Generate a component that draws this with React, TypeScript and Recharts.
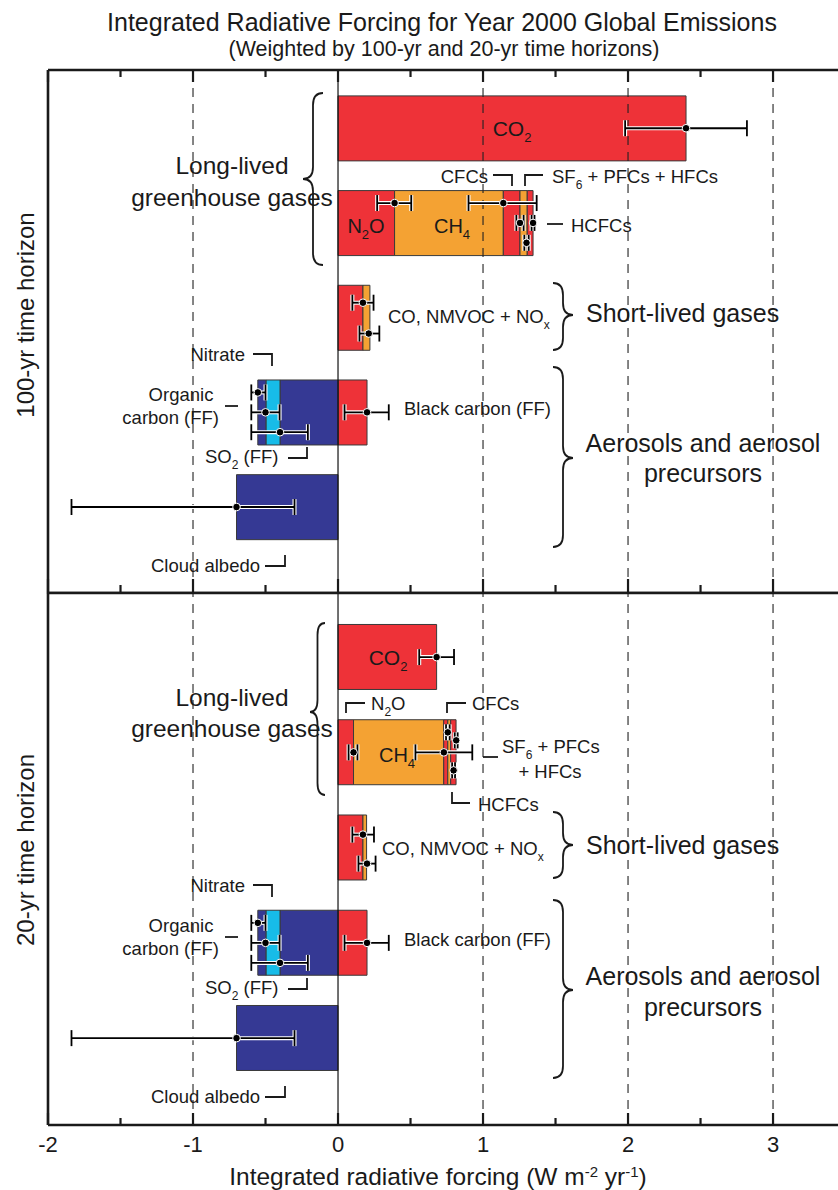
import React from "react";
import { Bar, ComposedChart, ErrorBar, ReferenceLine, Scatter, XAxis, YAxis } from "recharts";

const FONT = '"Liberation Sans", Arial, Helvetica, sans-serif';

// forcing components, in stacking order
const components = ["co2", "n2o", "ch4", "cfc", "sf6", "hcfc", "co", "nox", "bc", "so2", "oc", "nitrate", "cloud"];
const componentRow = [0, 1, 1, 1, 1, 1, 2, 2, 3, 3, 3, 3, 4];
const forcing100 = [2.4, 0.39, 0.75, 0.115, 0.05, 0.04, 0.172, 0.048, 0.2, -0.4, -0.097, -0.056, -0.7];
const forcing20 = [0.68, 0.107, 0.622, 0.028, 0.02, 0.037, 0.172, 0.025, 0.2, -0.4, -0.097, -0.056, -0.7];

const RED = "#ee3238";
const ORANGE = "#f4a233";
const BLUE = "#353994";
const CYAN = "#17bce8";
const componentColor = [RED, RED, ORANGE, RED, ORANGE, RED, RED, ORANGE, RED, BLUE, CYAN, BLUE, BLUE];

// uncertainty ranges (central estimate, low, high)
const errRow100 = [0, 1, 1, 1, 1, 1, 2, 2, 3, 3, 3, 3, 4];
const errMid100 = [2.4, 0.39, 1.14, 1.255, 1.3, 1.345, 0.172, 0.212, -0.553, -0.5, -0.4, 0.2, -0.7];
const errLow100 = [1.98, 0.27, 0.9, 1.23, 1.285, 1.335, 0.099, 0.148, -0.598, -0.598, -0.598, 0.045, -1.838];
const errHigh100 = [2.82, 0.505, 1.37, 1.28, 1.315, 1.355, 0.245, 0.285, -0.5, -0.403, -0.208, 0.35, -0.3];

const errRow20 = [0, 1, 1, 1, 1, 1, 2, 2, 3, 3, 3, 3, 4];
const errMid20 = [0.68, 0.107, 0.73, 0.757, 0.815, 0.797, 0.172, 0.2, -0.553, -0.5, -0.4, 0.2, -0.7];
const errLow20 = [0.56, 0.073, 0.534, 0.745, 0.805, 0.787, 0.099, 0.141, -0.598, -0.598, -0.598, 0.045, -1.838];
const errHigh20 = [0.8, 0.134, 0.926, 0.77, 0.825, 0.807, 0.248, 0.259, -0.5, -0.403, -0.208, 0.35, -0.3];

// vertical lane of each error bar inside its bar (-1 upper, 0 middle, 1 lower)
const errLane100 = [0, -1, -1, 0, 1, 0, -0.75, 0.8, -1, 0, 1, 0, 0];
const errLane20 = [0, 0, 0, -1, -0.6, 0.9, -0.65, 0.8, -1, 0, 1, 0, 0];
const LANE = 0.21;

const xTicks = [-2, -1.5, -1, -0.5, 0, 0.5, 1, 1.5, 2, 2.5, 3];
const dashedAt = [-1, 1, 2, 3];
const X_DOMAIN: [number, number] = [-2, 3.448];
const rowTicks = [0, 1, 2, 3, 4];

function buildRows(values: number[]) {
  return rowTicks.map((r) => {
    const d: any = { row: r };
    components.forEach((c, i) => {
      if (componentRow[i] === r) d[c] = values[i];
    });
    return d;
  });
}

function buildErrs(rows: number[], lanes: number[], mid: number[], low: number[], high: number[]) {
  return mid.map((m, i) => ({ x: m, y: rows[i] + lanes[i] * LANE, err: [m - low[i], high[i] - m] }));
}

const tickFactory = (dir: number, major: number, minor: number, labels: boolean) => (props: any) => {
  const { x, y, payload } = props;
  const v = payload.value;
  const isMajor = Number.isInteger(v);
  const len = isMajor ? major : minor;
  return (
    <g>
      {dir === 0 ? (
        <line x1={x} x2={x} y1={y - len} y2={y + len} stroke="#1a1a1a" strokeWidth={2.2} />
      ) : (
        <line x1={x} x2={x} y1={y} y2={y + dir * len} stroke="#1a1a1a" strokeWidth={2.2} />
      )}
      {labels && isMajor && (
        <text x={x} y={y + 27} textAnchor="middle" fontSize={22} fontFamily={FONT} fill="#1a1a1a">
          {String(v)}
        </text>
      )}
    </g>
  );
};

const Dot = (props: any) => {
  const { cx, cy } = props;
  if (cx == null || cy == null) return null;
  return <circle cx={cx} cy={cy} r={3.8} fill="#000" stroke="#fff" strokeWidth={1} />;
};

function Panel({ values, errs, rowDomain, height, topTick, bottomTick, bottomHeight }: any) {
  const data = buildRows(values);
  return (
    <ComposedChart
      width={838}
      height={height}
      layout="vertical"
      data={data}
      stackOffset="sign"
      margin={{ top: 0, right: 0, bottom: 0, left: 48 }}
    >
      <XAxis
        xAxisId="main"
        type="number"
        domain={X_DOMAIN}
        allowDataOverflow
        ticks={xTicks}
        interval={0}
        height={bottomHeight}
        tickSize={0}
        tickMargin={0}
        tickLine={false}
        axisLine={{ stroke: "#1a1a1a", strokeWidth: 2.6 }}
        tick={bottomTick}
      />
      <XAxis
        xAxisId="top"
        orientation="top"
        type="number"
        domain={X_DOMAIN}
        allowDataOverflow
        ticks={xTicks}
        interval={0}
        height={10}
        tickSize={0}
        tickMargin={0}
        tickLine={false}
        axisLine={{ stroke: "#1a1a1a", strokeWidth: 2.6 }}
        tick={topTick}
      />
      <XAxis xAxisId="px" type="number" dataKey="x" domain={X_DOMAIN} allowDataOverflow hide />
      <YAxis yAxisId="row" type="number" dataKey="row" domain={rowDomain} ticks={rowTicks} allowDataOverflow hide />
      <YAxis yAxisId="py" type="number" dataKey="y" domain={rowDomain} allowDataOverflow hide />

      {dashedAt.map((v) => (
        <ReferenceLine key={v} x={v} xAxisId="main" yAxisId="row" stroke="#222" strokeWidth={1.1} strokeDasharray="9 7" />
      ))}
      <ReferenceLine x={0} xAxisId="main" yAxisId="row" stroke="#111" strokeWidth={1.2} />
      <ReferenceLine x={-2} xAxisId="main" yAxisId="row" stroke="#1a1a1a" strokeWidth={2.6} />

      {components.map((c, i) => (
        <Bar
          key={c}
          dataKey={c}
          stackId="s"
          xAxisId="main"
          yAxisId="row"
          fill={componentColor[i]}
          stroke="#3a3a3a"
          strokeWidth={1}
          barSize={65}
          isAnimationActive={false}
        />
      ))}

      <Scatter data={errs} xAxisId="px" yAxisId="py" shape={<Dot />} isAnimationActive={false}>
        <ErrorBar dataKey="err" direction="x" width={8} stroke="#fff" strokeWidth={4} />
        <ErrorBar dataKey="err" direction="x" width={8} stroke="#000" strokeWidth={1.8} />
      </Scatter>
    </ComposedChart>
  );
}

function T({ x, y, size = 18.5, anchor = "start", children }: any) {
  return (
    <text x={x} y={y + size * 0.36} fontSize={size} textAnchor={anchor} fontFamily={FONT} fill="#1a1a1a">
      {children}
    </text>
  );
}

const Sub = ({ c, size = 12 }: any) => (
  <tspan dy={6} fontSize={size}>
    {c}
  </tspan>
);
const Up = ({ children }: any) => <tspan dy={-6}>{children}</tspan>;

function bracePath(xEnd: number, xTip: number, y1: number, y2: number, yTip: number) {
  const xm = (xEnd + xTip) / 2;
  const r = 12;
  return `M${xEnd},${y1} Q${xm},${y1} ${xm},${y1 + r} L${xm},${yTip - r} Q${xm},${yTip} ${xTip},${yTip} Q${xm},${yTip} ${xm},${yTip + r} L${xm},${y2 - r} Q${xm},${y2} ${xEnd},${y2}`;
}

const lineStyle = { fill: "none", stroke: "#1a1a1a", strokeWidth: 1.8 };

function Aerosols({ dy }: { dy: number }) {
  return (
    <g transform={`translate(0,${dy})`}>
      <T x={245} y={354} anchor="end">Nitrate</T>
      <polyline points="253,354 272,354 272,366" {...lineStyle} />
      <T x={181} y={394} anchor="middle">Organic</T>
      <T x={219} y={417} anchor="end">carbon (FF)</T>
      <line x1={225} y1={406} x2={238} y2={406} {...lineStyle} />
      <T x={205} y={456}>
        SO<Sub c="2" />
        <Up> (FF)</Up>
      </T>
      <polyline points="288,458 307,458 307,447" {...lineStyle} />
      <T x={404} y={408}>Black carbon (FF)</T>
      <T x={260} y={565} anchor="end">Cloud albedo</T>
      <polyline points="265,566 285,566 285,555" {...lineStyle} />
    </g>
  );
}

function Overlay() {
  return (
    <svg width={838} height={1190} style={{ position: "absolute", left: 0, top: 0, pointerEvents: "none" }}>
      <T x={442} y={22} size={25} anchor="middle">Integrated Radiative Forcing for Year 2000 Global Emissions</T>
      <T x={444} y={48} size={21.5} anchor="middle">(Weighted by 100-yr and 20-yr time horizons)</T>

      <g transform="translate(25,315) rotate(-90)">
        <T x={0} y={0} size={24} anchor="middle">100-yr time horizon</T>
      </g>
      <g transform="translate(25,850) rotate(-90)">
        <T x={0} y={0} size={24} anchor="middle">20-yr time horizon</T>
      </g>

      {/* 100-yr panel */}
      <T x={512} y={128} size={21} anchor="middle">
        CO<Sub c="2" size={13} />
      </T>
      <T x={366} y={226} size={20} anchor="middle">
        N<Sub c="2" size={13} />
        <Up>O</Up>
      </T>
      <T x={452} y={226} size={20} anchor="middle">
        CH<Sub c="4" size={13} />
      </T>
      <T x={488} y={176} anchor="end">CFCs</T>
      <polyline points="493,175 512,175 512,186" {...lineStyle} />
      <polyline points="525,186 525,175 543,175" {...lineStyle} />
      <T x={552} y={176}>
        SF<Sub c="6" />
        <Up> + PFCs + HFCs</Up>
      </T>
      <line x1={547} y1={224} x2={563} y2={224} {...lineStyle} />
      <T x={571} y={225}>HCFCs</T>
      <T x={388} y={316}>
        CO, NMVOC + NO<Sub c="x" />
      </T>
      <Aerosols dy={0} />

      <T x={232} y={165} size={24.5} anchor="middle">Long-lived</T>
      <T x={232} y={197} size={24.5} anchor="middle">greenhouse gases</T>
      <path d={bracePath(323, 303, 93, 265, 179)} {...lineStyle} />
      <T x={586} y={313} size={25}>Short-lived gases</T>
      <path d={bracePath(553, 573, 283, 350, 315)} {...lineStyle} />
      <T x={703} y={443} size={25} anchor="middle">Aerosols and aerosol</T>
      <T x={703} y={473} size={25} anchor="middle">precursors</T>
      <path d={bracePath(553, 573, 367, 547, 458)} {...lineStyle} />

      {/* 20-yr panel */}
      <T x={388} y={657} size={21} anchor="middle">
        CO<Sub c="2" size={13} />
      </T>
      <polyline points="346,713 346,703 365,703" {...lineStyle} />
      <T x={371} y={703}>
        N<Sub c="2" />
        <Up>O</Up>
      </T>
      <T x={397} y={755} size={20} anchor="middle">
        CH<Sub c="4" size={13} />
      </T>
      <polyline points="447,713 447,703 466,703" {...lineStyle} />
      <T x={472} y={703}>CFCs</T>
      <line x1={483} y1={757} x2={498} y2={757} {...lineStyle} />
      <T x={502} y={746}>
        SF<Sub c="6" />
        <Up> + PFCs</Up>
      </T>
      <T x={550} y={771} anchor="middle">+ HFCs</T>
      <polyline points="452,792 452,803 470,803" {...lineStyle} />
      <T x={478} y={804}>HCFCs</T>
      <T x={382} y={848}>
        CO, NMVOC + NO<Sub c="x" />
      </T>
      <Aerosols dy={531} />

      <T x={232} y={697} size={24.5} anchor="middle">Long-lived</T>
      <T x={232} y={728} size={24.5} anchor="middle">greenhouse gases</T>
      <path d={bracePath(325, 310, 623, 795, 712)} {...lineStyle} />
      <T x={586} y={845} size={25}>Short-lived gases</T>
      <path d={bracePath(553, 573, 812, 878, 845)} {...lineStyle} />
      <T x={703} y={976} size={25} anchor="middle">Aerosols and aerosol</T>
      <T x={703} y={1007} size={25} anchor="middle">precursors</T>
      <path d={bracePath(553, 573, 900, 1078, 990)} {...lineStyle} />

      <T x={438} y={1176} size={24.5} anchor="middle">
        Integrated radiative forcing (W m
        <tspan dy={-8} fontSize={15}>-2</tspan>
        <tspan dy={8}> yr</tspan>
        <tspan dy={-8} fontSize={15}>-1</tspan>
        <tspan dy={8}>)</tspan>
      </T>
    </svg>
  );
}

export default function App() {
  const errs100 = buildErrs(errRow100, errLane100, errMid100, errLow100, errHigh100);
  const errs20 = buildErrs(errRow20, errLane20, errMid20, errLow20, errHigh20);
  return (
    <div style={{ position: "absolute", left: 0, top: 0, width: 838, height: 1190, background: "#fff", fontFamily: FONT }}>
      <div style={{ position: "absolute", left: 0, top: 60 }}>
        <Panel
          values={forcing100}
          errs={errs100}
          rowDomain={[-0.615, 4.908]}
          height={534}
          topTick={tickFactory(1, 12, 7, false)}
          bottomTick={tickFactory(0, 14, 8, false)}
          bottomHeight={1}
        />
      </div>
      <div style={{ position: "absolute", left: 0, top: 583 }}>
        <Panel
          values={forcing20}
          errs={errs20}
          rowDomain={[-0.673, 4.912]}
          height={607}
          topTick={tickFactory(1, 0, 0, false)}
          bottomTick={tickFactory(-1, 12, 7, true)}
          bottomHeight={65}
        />
      </div>
      <Overlay />
    </div>
  );
}
